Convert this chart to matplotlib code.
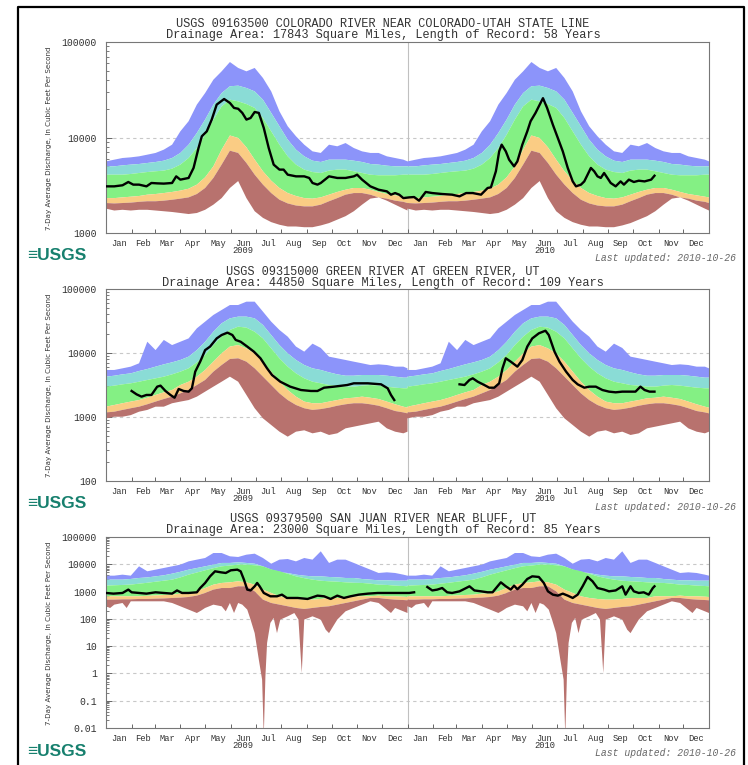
import numpy as np
import matplotlib
matplotlib.use("Agg")
import matplotlib.pyplot as plt
from matplotlib.lines import Line2D
from matplotlib.ticker import FixedLocator, LogLocator, NullFormatter, FixedFormatter

NAN = float("nan")

# ---------------- data ----------------
BAND_DOY = list(range(0, 361, 10)) + [365]

MONTHS = ["Jan", "Feb", "Mar", "Apr", "May", "Jun", "Jul", "Aug", "Sep", "Oct", "Nov", "Dec"]
MONTH_START = [0, 31, 59, 90, 120, 151, 181, 212, 243, 273, 304, 334]
MONTH_LEN = [31, 28, 31, 30, 31, 30, 31, 31, 30, 31, 30, 31]
YEARS = ["2009", "2010"]

TITLES = ["USGS 09163500 COLORADO RIVER NEAR COLORADO-UTAH STATE LINE",
          "USGS 09315000 GREEN RIVER AT GREEN RIVER, UT",
          "USGS 09379500 SAN JUAN RIVER NEAR BLUFF, UT"]
SUBTITLES = ["Drainage Area: 17843 Square Miles, Length of Record: 58 Years",
             "Drainage Area: 44850 Square Miles, Length of Record: 109 Years",
             "Drainage Area: 23000 Square Miles, Length of Record: 85 Years"]
YLABEL = "7-Day Average Discharge, In Cubic Feet Per Second"
LAST_UPDATED = "Last updated: 2010-10-26"
LOGO = "\u2261USGS"

# Panel 1 : Colorado River near Colorado-Utah state line
P1_MAX = [5620, 5860, 6100, 6200, 6350, 6610, 6890, 7460, 8410, 11600, 14800, 22100, 29200, 40300, 49300, 61700,
          53500, 49300, 53500, 42000, 30400, 18800, 13100, 10300, 8410, 7160, 6890, 8410, 8090, 8750, 7760, 7160,
          6890, 6890, 6350, 6100, 5860, 5620]
P1_P90 = [4990, 4990, 5110, 5200, 5280, 5410, 5540, 5720, 6100, 6890, 8410, 11150, 15400, 22100, 29200, 34400,
          34900, 33000, 30400, 24900, 18100, 13100, 9490, 7460, 6350, 5720, 5540, 5860, 5860, 5860, 5720, 5540,
          5280, 5200, 5070, 4990, 4990, 4990]
P1_P75 = [4080, 4080, 4080, 4150, 4250, 4350, 4430, 4500, 4720, 5200, 6100, 7760, 10700, 15400, 21200, 24900,
          23900, 22400, 20400, 16000, 11600, 8410, 6350, 5200, 4610, 4350, 4250, 4500, 4610, 4610, 4430, 4250,
          4080, 4020, 4020, 4020, 4080, 4080]
P1_P25 = [2320, 2320, 2360, 2400, 2440, 2520, 2560, 2620, 2690, 2780, 2910, 3210, 3830, 4990, 7460, 10500,
          9880, 7890, 5860, 4430, 3530, 2960, 2620, 2440, 2320, 2290, 2360, 2520, 2690, 2840, 2960, 2960,
          2840, 2690, 2560, 2480, 2400, 2360]
P1_P10 = [2060, 2040, 2060, 2080, 2120, 2150, 2150, 2180, 2230, 2290, 2360, 2560, 2960, 3770, 5200, 7280,
          6890, 5410, 4080, 3210, 2620, 2230, 2040, 1940, 1900, 1900, 1980, 2150, 2320, 2520, 2620, 2620,
          2520, 2360, 2290, 2180, 2120, 2060]
P1_MIN_DOY = BAND_DOY
P1_MIN = [1800, 1720, 1750, 1720, 1750, 1750, 1720, 1690, 1660, 1620, 1580, 1620, 1750, 1980, 2320, 2960,
          3500, 2320, 1690, 1440, 1300, 1220, 1170, 1170, 1150, 1150, 1200, 1270, 1380, 1500, 1690, 1980,
          2290, 2360, 2180, 1980, 1800, 1720]
P1_LINE_DAY = [0, 10, 20, 27, 33, 40, 49, 55, 62, 70, 80, 85, 90, 100, 106, 112, 116, 122, 128, 134,
               143, 150, 155, 160, 165, 170, 175, 180, 185, 191, 197, 203, 210, 215, 220, 230, 240, 246, 250, 256,
               260, 270, 280, 290, 300, 304, 310, 320, 330, 340, 345, 350, 355, 360,
               367, 373, 379, 383, 387, 395, 407, 419, 428, 436, 444, 454, 462, 466, 472, 476, 479, 484, 488, 494,
               498, 504, 510, 514, 520, 524, 529, 534, 541, 547, 553, 559, 565, 569, 575, 579, 583, 587, 591, 595,
               599, 603, 607, 611, 617, 623, 627, 633, 639, 645, 652, 660, 664]
P1_LINE_Q = [3080, 3080, 3160, 3420, 3210, 3210, 3080, 3340, 3310, 3290, 3340, 3920, 3620, 3770, 4800, 7760,
             10300, 11600, 15400, 22100, 25300, 23000, 20400, 20000, 18100, 15400, 16000, 18500, 18100, 12600,
             7760, 5200, 4610, 4610, 4080, 3920, 3920, 3770, 3340, 3210, 3340, 3920, 3770, 3770, 3920, 4080,
             3620, 3080, 2840, 2730, 2520, 2620, 2520, 2320,
             2360, 2380, 2180, 2420, 2690, 2620, 2560, 2520, 2420, 2620, 2620, 2520, 2960, 3010, 4430, 7160,
             8410, 7160, 5860, 4990, 5620, 8410, 11600, 14800, 18100, 21200, 25800, 20400, 13600, 9880, 7160,
             4800, 3470, 3080, 3210, 3470, 4080, 4800, 4430, 3920, 3770, 4250, 3770, 3340, 3080, 3470, 3210,
             3620, 3420, 3530, 3470, 3620, 3980]

# Panel 2 : Green River at Green River, UT
P2_MAX = [5430, 5430, 5760, 6120, 6900, 15000, 11100, 16000, 13300, 15000, 16900, 24300, 30900, 39300, 47000,
          56200, 56200, 63400, 63400, 44300, 30900, 22900, 18000, 12600, 10500, 14000, 12000, 8770, 8260, 7780,
          7320, 6900, 6490, 6650, 6490, 6120, 6120, 5760]
P2_P90 = [4270, 4420, 4640, 4810, 5230, 5620, 6120, 6650, 7150, 7780, 8770, 11100, 15000, 21500, 29100, 34800,
          37000, 37000, 34800, 27400, 19100, 13300, 9880, 7780, 6490, 5760, 5430, 4990, 4640, 4420, 4420, 4530,
          4530, 4530, 4420, 4270, 4120, 4120]
P2_P75 = [2980, 3090, 3240, 3360, 3560, 3790, 4020, 4270, 4640, 5110, 5760, 7150, 9310, 13300, 18000, 22900,
          25800, 24900, 21500, 16900, 11800, 8260, 6120, 4810, 4020, 3560, 3360, 3160, 3090, 2980, 2980, 3090,
          3160, 3090, 2980, 2870, 2810, 2810]
P2_P25 = [1450, 1540, 1640, 1740, 1840, 2000, 2210, 2430, 2640, 3160, 3560, 4270, 5430, 7320, 9880, 12600,
          13300, 11800, 9880, 7320, 5110, 3560, 2640, 2080, 1740, 1640, 1640, 1740, 1840, 1960, 2000, 2080,
          2000, 1910, 1740, 1580, 1450, 1400]
P2_P10 = [1180, 1210, 1290, 1370, 1450, 1580, 1740, 1910, 2080, 2340, 2640, 3160, 3790, 5110, 6490, 8060,
          8260, 7320, 5760, 4270, 3160, 2340, 1840, 1540, 1370, 1290, 1330, 1400, 1500, 1580, 1640, 1640,
          1580, 1500, 1370, 1240, 1180, 1140]
P2_MIN_DOY = BAND_DOY
P2_MIN = [953, 1010, 1010, 1070, 1210, 1290, 1450, 1450, 1640, 1740, 1840, 2080, 2490, 2980, 3560, 4270,
          3560, 2210, 1370, 953, 750, 590, 493, 590, 620, 556, 590, 524, 556, 665, 706, 750,
          796, 845, 665, 590, 556, 590]
P2_LINE_DAY = [31, 37, 43, 49, 55, 62, 66, 72, 78, 83, 88, 94, 100, 104, 108, 114, 120, 126, 134, 140,
               147, 153, 157, 163, 171, 179, 187, 195, 201, 211, 223, 236, 248, 256, 264, 276, 292, 300, 317, 333,
               341, 345, 349, 390,
               428, 434, 440, 444, 450, 458, 464, 470, 476, 480, 484, 490, 498, 504, 510, 516, 524, 532, 536, 543,
               549, 557, 565, 571, 579, 585, 593, 601, 609, 617, 625, 633, 641, 647, 652, 658, 664]
P2_LINE_Q = [2550, 2260, 2080, 2210, 2210, 2980, 3090, 2550, 2210, 2000, 2740, 2550, 2490, 2810, 5110, 7320,
             11100, 12600, 16900, 19100, 20800, 19100, 16000, 15000, 12600, 10500, 8260, 5760, 4530, 3560,
             2980, 2640, 2550, 2550, 2870, 2980, 3160, 3360, 3360, 3240, 2810, 2210, 1840, NAN,
             3240, 3160, 3790, 4020, 3560, 3160, 2870, 2870, 3360, 5760, 8260, 7320, 6120, 7780, 12600, 16900,
             20300, 22300, 19100, 10500, 7320, 5110, 3790, 3240, 2870, 2980, 2980, 2640, 2490, 2430, 2490, 2490,
             2490, 2980, 2640, 2490, 2490]

# Panel 3 : San Juan River near Bluff, UT
P3_MAX = [3830, 3830, 4170, 3830, 8420, 5530, 6360, 7320, 8420, 9700, 12800, 14800, 17000, 25900, 25900, 19600,
          18500, 22500, 24500, 17000, 10500, 14800, 15600, 12800, 17000, 14800, 29900, 11200, 14800, 14800,
          11200, 8420, 6360, 4800, 5080, 4800, 4170, 3830]
P3_P90 = [2740, 2740, 2740, 2900, 3150, 3300, 3620, 3950, 4540, 5300, 6360, 7300, 8420, 9700, 11200, 11200,
          11800, 11200, 10500, 8420, 6360, 5080, 4800, 4170, 3830, 3620, 3620, 3430, 3330, 3150, 3150, 2890,
          2740, 2590, 2590, 2510, 2510, 2510]
P3_P75 = [1650, 1700, 1750, 1800, 1950, 2100, 2300, 2500, 2740, 3300, 4170, 5000, 6010, 7200, 8420, 9000,
          9700, 9700, 9200, 8420, 6500, 5530, 4500, 3620, 3100, 2740, 2500, 2380, 2300, 2180, 2100, 2070,
          1950, 1790, 1750, 1650, 1600, 1560]
P3_P25 = [671, 671, 671, 671, 671, 700, 720, 750, 772, 840, 840, 1020, 1350, 1790, 2070, 2180,
          2380, 2180, 1790, 1180, 889, 671, 583, 536, 507, 507, 536, 583, 583, 583, 671, 671,
          671, 710, 671, 671, 650, 634]
P3_P10 = [507, 507, 520, 520, 536, 536, 550, 560, 583, 600, 634, 710, 889, 1180, 1350, 1350,
          1560, 1560, 1020, 507, 382, 332, 289, 251, 230, 251, 273, 289, 332, 382, 440, 507,
          583, 583, 536, 507, 490, 479]
P3_MIN_DOY = [0, 5, 10, 20, 25, 30, 45, 60, 70, 80, 90, 100, 110, 115, 120, 130, 140, 145, 150, 155,
              160, 165, 171, 175, 180, 185, 189, 191, 193, 195, 199, 203, 207, 211, 220, 228, 233, 237, 240, 250,
              260, 266, 270, 276, 280, 290, 300, 310, 320, 330, 340, 345, 350, 360, 365]
P3_MIN = [289, 250, 332, 382, 250, 440, 440, 440, 440, 382, 289, 218, 164, 200, 251, 332, 289, 189, 382, 164,
          382, 332, 218, 94, 30, 3.2, 0.59, 0.005, 0.79, 13, 71, 108, 30, 94, 124, 164, 94, 1.04, 94, 124,
          94, 40, 30, 60, 94, 189, 251, 332, 440, 382, 218, 164, 251, 189, 164]
P3_LINE_DAY = [0, 9, 20, 27, 31, 40, 49, 60, 70, 80, 86, 92, 100, 110, 114, 120, 126, 132, 139, 145,
               151, 159, 163, 167, 171, 175, 180, 183, 186, 191, 199, 207, 213, 219, 232, 244, 256, 264, 272, 280,
               288, 296, 306, 317, 329, 341, 353, 365, 367, 373, 380,
               389, 395, 401, 407, 413, 419, 428, 436, 440, 446, 454, 462, 468, 474, 478, 484, 490, 494, 498, 504,
               510, 516, 524, 530, 535, 541, 547, 553, 559, 565, 571, 577, 583, 589, 595, 603, 609, 617, 625, 629,
               635, 639, 645, 651, 657, 662, 664]
P3_LINE_Q = [889, 840, 889, 1180, 940, 889, 840, 940, 889, 840, 1100, 889, 889, 940, 1350, 2070, 3620, 5530,
             5080, 4800, 6010, 6360, 5530, 2740, 1180, 1100, 1560, 2070, 1560, 889, 671, 671, 772, 583, 583,
             536, 710, 671, 536, 710, 583, 671, 772, 840, 889, 889, 889, 889, 889, 940, NAN,
             1470, 1100, 1180, 1350, 940, 889, 1020, 1350, 1560, 1100, 1020, 940, 940, 1560, 2180, 1560, 1180,
             1650, 1220, 1790, 2890, 3620, 3430, 2070, 1020, 772, 710, 840, 710, 583, 772, 1560, 3430, 2380,
             1350, 1180, 1020, 1100, 1560, 772, 1560, 1020, 889, 940, 772, 1350, 1560]

PANELS = [
    dict(bands=(P1_MAX, P1_P90, P1_P75, P1_P25, P1_P10), min_doy=P1_MIN_DOY, vmin=P1_MIN,
         line=(P1_LINE_DAY, P1_LINE_Q), ylim=(1e3, 1e5), decades=[1000, 10000, 100000],
         ticklabels=["1000", "10000", "100000"], rect=(106, 42, 709, 233),
         title_y=29.5, ylab_y=138, logo_y=256, upd_y=258),
    dict(bands=(P2_MAX, P2_P90, P2_P75, P2_P25, P2_P10), min_doy=P2_MIN_DOY, vmin=P2_MIN,
         line=(P2_LINE_DAY, P2_LINE_Q), ylim=(1e2, 1e5), decades=[100, 1000, 10000, 100000],
         ticklabels=["100", "1000", "10000", "100000"], rect=(106, 289, 709, 481),
         title_y=277.2, ylab_y=385, logo_y=503, upd_y=507),
    dict(bands=(P3_MAX, P3_P90, P3_P75, P3_P25, P3_P10), min_doy=P3_MIN_DOY, vmin=P3_MIN,
         line=(P3_LINE_DAY, P3_LINE_Q), ylim=(1e-2, 1e5),
         decades=[0.01, 0.1, 1, 10, 100, 1000, 10000, 100000],
         ticklabels=["0.01", "0.1", "1", "10", "100", "1000", "10000", "100000"], rect=(106, 537, 709, 728),
         title_y=524.5, ylab_y=633, logo_y=752, upd_y=753),
]

# colors: max-90, 90-75, 75-25, 25-10, 10-min
BAND_COLORS = ["#8C94FA", "#8ADCD6", "#84F084", "#FACC84", "#B8726E"]

# ---------------- figure ----------------
W, H = 748, 765
fig = plt.figure(figsize=(W / 100, H / 100), dpi=100)


def fx(px):
    return px / W


def fy(py):
    return 1 - py / H


MONO = "Liberation Mono"
TXT = "#333333"
ylabels = []

# month labels, with the year written under June
MONTH_LABELS = []
for yr in YEARS:
    for m in MONTHS:
        MONTH_LABELS.append(m + "\n" + yr if m == "Jun" else m)

for i, p in enumerate(PANELS):
    l, t, r, b = p["rect"]
    ax = fig.add_axes([fx(l), fy(b), (r - l) / W, (b - t) / H])
    ax.set_yscale("log")
    ax.set_xlim(0, 730)
    ax.set_ylim(*p["ylim"])

    doy = np.array(BAND_DOY, dtype=float)
    xx = np.concatenate([doy, doy + 365])
    edges = [np.concatenate([np.array(a, float), np.array(a, float)]) for a in p["bands"]]
    mdoy = np.array(p["min_doy"], dtype=float)
    mx = np.concatenate([mdoy, mdoy + 365])
    mv = np.concatenate([np.array(p["vmin"], float), np.array(p["vmin"], float)])

    for k in range(4):
        upper, lower = edges[k], edges[k + 1]
        ax.fill(np.r_[xx, xx[::-1]], np.r_[upper, lower[::-1]], color=BAND_COLORS[k], lw=0, zorder=2)
    ax.fill(np.r_[xx, mx[::-1]], np.r_[edges[4], mv[::-1]], color=BAND_COLORS[4], lw=0, zorder=2)

    for d in p["decades"][1:-1]:
        ax.axhline(d, color="#c8c8c8", lw=0.8, ls=(0, (3, 3)), zorder=1)
    ax.axvline(365, color="#c0c0c0", lw=0.8, zorder=1)

    ld, lq = p["line"]
    ax.plot(ld, lq, color="black", lw=1.7, zorder=5, solid_joinstyle="round")

    majors = [s + 365 * y for y in range(2) for s in MONTH_START] + [730]
    mids = [s + n / 2 + 365 * y for y in range(2) for s, n in zip(MONTH_START, MONTH_LEN)]
    ax.xaxis.set_major_locator(FixedLocator(majors))
    ax.xaxis.set_minor_locator(FixedLocator(mids))
    ax.xaxis.set_major_formatter(NullFormatter())
    ax.xaxis.set_minor_formatter(FixedFormatter(MONTH_LABELS))
    ax.tick_params(axis="x", which="major", direction="in", length=3, width=0.7, color="#666666")
    ax.tick_params(axis="x", which="minor", length=0, pad=4, labelsize=6.3, labelcolor=TXT)
    for lab in ax.get_xticklabels(minor=True):
        lab.set_fontfamily(MONO)
        lab.set_linespacing(0.82)

    ax.yaxis.set_major_locator(FixedLocator(p["decades"]))
    ax.yaxis.set_major_formatter(FixedFormatter(p["ticklabels"]))
    ax.yaxis.set_minor_locator(LogLocator(base=10, subs=np.arange(2, 10), numticks=30))
    ax.yaxis.set_minor_formatter(NullFormatter())
    ax.tick_params(axis="y", which="major", direction="in", length=4, width=0.7, color="#666666",
                   pad=6.5, labelsize=7, labelcolor=TXT)
    ax.tick_params(axis="y", which="minor", direction="in", length=2, width=0.6, color="#666666")
    for lab in ax.get_yticklabels():
        lab.set_fontfamily(MONO)

    for s in ax.spines.values():
        s.set_color("#777777")
        s.set_linewidth(0.8)

    # two-line title as one text
    fig.text(fx(383), fy(p["title_y"]), TITLES[i] + "\n" + SUBTITLES[i], ha="center", va="center",
             multialignment="center", linespacing=0.88, fontsize=8.6, family=MONO, color=TXT)

    ylabels.append(fig.text(fx(49), fy(p["ylab_y"]), YLABEL, rotation=90, ha="center", va="center",
                            fontsize=6.5, family=["Liberation Sans Narrow", "DejaVu Sans"], color=TXT))

    fig.text(fx(27), fy(p["logo_y"]), LOGO, ha="left", va="center", fontsize=12.5, fontweight="bold",
             family=["Liberation Sans", "DejaVu Sans"], color="#17806E")
    fig.text(fx(736), fy(p["upd_y"]), LAST_UPDATED, ha="right", va="center", fontsize=7, style="italic",
             family=MONO, color="#666666")

# fit y-label length to reference (~183 px)
fig.canvas.draw()
renderer = fig.canvas.get_renderer()
for tl in ylabels:
    h = tl.get_window_extent(renderer).height
    tl.set_fontsize(tl.get_fontsize() * 183.0 / h)

fig.add_artist(Line2D([fx(18), fx(18), fx(744), fx(744)], [0, fy(7), fy(7), 0],
                      transform=fig.transFigure, color="black", lw=1.6))

fig.savefig("out.png", dpi=100)
